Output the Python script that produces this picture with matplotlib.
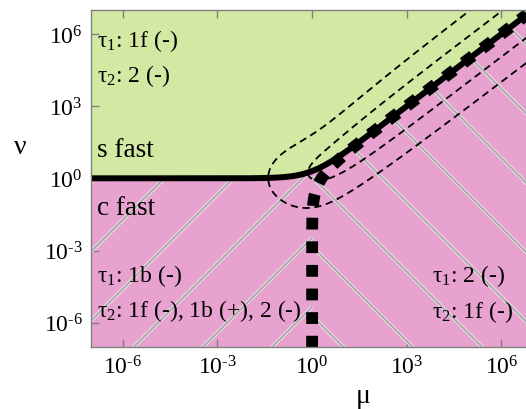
import numpy as np
import matplotlib
matplotlib.use("Agg")
import matplotlib.pyplot as plt
from matplotlib.ticker import FixedLocator, FixedFormatter, NullLocator

# ---------------- data ----------------
tick_exponents = [-6, -3, 0, 3, 6]
tick_labels = [r"$\mathregular{10^{\text{-}6}}$", r"$\mathregular{10^{\text{-}3}}$",
               r"$\mathregular{10^{0}}$", r"$\mathregular{10^{3}}$", r"$\mathregular{10^{6}}$"]
log_limits = (-7, 7)

# phase boundaries: nu = mu + shift_upper (solid), nu = mu - shift_lower (thick dotted)
shift_upper = 1.0
shift_lower = 1.0

# dashed loops around the boundary (log10 half width, left end in log10 mu, cap scale)
loop_half_widths = [2.0, 0.95]
loop_left_ends = [-1.39, -0.13]
loop_cap_scales = [1.61, 1.06]

# hatch lines: log10(mu) where each line meets the bottom edge
hatch_left_bottom = [-12.21, -10.02, -7.83, -5.64, -3.45, -1.26]
hatch_right_bottom = [0.98, 3.18, 5.38, 7.58, 9.78, 11.98, 14.18, 16.38]

region_texts = [
    (r"$\mathrm{τ}_1$: 1f (-)", 97, 47, 17),
    (r"$\mathrm{τ}_2$: 2 (-)", 97, 82, 17),
    ("s fast", 97, 157, 19.5),
    ("c fast", 97, 215, 19.5),
    (r"$\mathrm{τ}_1$: 1b (-)", 97, 282, 17),
    (r"$\mathrm{τ}_2$: 1f (-), 1b (+), 2 (-)", 97, 317, 17),
    (r"$\mathrm{τ}_1$: 2 (-)", 432, 282, 17),
    (r"$\mathrm{τ}_2$: 1f (-)", 432, 318, 17),
]

green = "#d3e8a3"
pink = "#e8a2d0"

# ---------------- style ----------------
plt.rcParams["font.family"] = ["Liberation Serif", "DejaVu Serif"]
plt.rcParams["mathtext.fontset"] = "custom"
plt.rcParams["mathtext.rm"] = "Liberation Serif"
plt.rcParams["mathtext.it"] = "Liberation Serif:italic"
plt.rcParams["mathtext.default"] = "regular"

W, H = 526, 410
fig = plt.figure(figsize=(W / 100, H / 100), dpi=100)
axL, axR, axT, axB = 91.2, 532.9, 11.0, 347.7
ax = fig.add_axes([axL / W, 1 - axB / H, (axR - axL) / W, (axB - axT) / H])
ax.set_xscale("log")
ax.set_yscale("log")
lo, hi = 10.0 ** log_limits[0], 10.0 ** log_limits[1]
ax.set_xlim(lo, hi)
ax.set_ylim(lo, hi)

# regions
mu = np.logspace(-9, 9, 3001)
nu_up = mu + shift_upper
ax.fill_between(mu, nu_up, 1e10, color=green, lw=0, zorder=1)
pink_poly = ax.fill_between(mu, 1e-10, nu_up, color=pink, lw=0, zorder=1)
clip_path = pink_poly.get_paths()[0]

# hatch (45 degrees on screen)
slope = ((axR - axL) / (log_limits[1] - log_limits[0])) / ((axB - axT) / (log_limits[1] - log_limits[0]))
vb = log_limits[0]
for ub in hatch_left_bottom:
    u = np.array([ub - 15, 0.0])
    v = vb + slope * (u - ub)
    for c, w in (("#f2e4ee", 2.6), ("#a9a9a9", 1.4)):
        ln, = ax.plot(10 ** u, 10 ** v, color=c, lw=w, zorder=2, solid_capstyle="butt")
        ln.set_clip_path(clip_path, ax.transData)
for ub in hatch_right_bottom:
    u = np.array([0.0, ub + 15])
    v = vb - slope * (u - ub)
    for c, w in (("#f2e4ee", 2.6), ("#a9a9a9", 1.4)):
        ln, = ax.plot(10 ** u, 10 ** v, color=c, lw=w, zorder=2, solid_capstyle="butt")
        ln.set_clip_path(clip_path, ax.transData)

# dashed loops
for a, uL, sc in zip(loop_half_widths, loop_left_ends, loop_cap_scales):
    t = np.linspace(0, 1, 800)
    u = uL + (8.0 - uL) * t ** 2
    d = a * np.sqrt(np.clip(1 - np.exp(-(u - uL) / sc), 0, None))
    center = np.log10(shift_upper + 10 ** u)
    uu = np.concatenate([u[::-1], u])
    vv = np.concatenate([(center + d)[::-1], center - d])
    ax.plot(10 ** uu, 10 ** vv, color="k", lw=1.3, dashes=(4.0, 2.6), zorder=3)

# boundaries
ax.plot(mu, nu_up, color="k", lw=4.3, zorder=4, solid_capstyle="butt")
nu_d = np.logspace(-9, 9, 4001)
ax.plot(nu_d + shift_lower, nu_d, color="k", lw=8.5, dashes=(1, 1),
        dash_capstyle="butt", zorder=5)

# axes styling
for axis in (ax.xaxis, ax.yaxis):
    axis.set_major_locator(FixedLocator(10.0 ** np.array(tick_exponents)))
    axis.set_major_formatter(FixedFormatter(tick_labels))
    axis.set_minor_locator(NullLocator())
ax.tick_params(which="both", direction="in", length=6, width=1, color="#808080",
               top=True, right=True, labelsize=17, pad=6)
for sp in ax.spines.values():
    sp.set_color("#808080")
    sp.set_linewidth(1.0)
    sp.set_zorder(6)

for s, x, y, fs in region_texts:
    fig.text(x / W, 1 - y / H, s, fontsize=fs, ha="left", va="baseline", color="k")

fig.text(20 / W, 1 - 147 / H, "ν", fontsize=20, ha="center", va="center")
fig.text(363 / W, 1 - 397 / H, "μ", fontsize=20, ha="center", va="center")

fig.savefig("out.png", dpi=100)
